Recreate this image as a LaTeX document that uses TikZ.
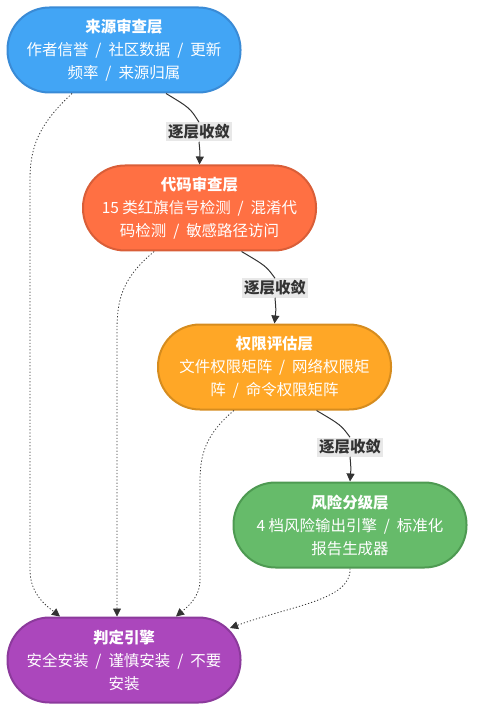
\documentclass[tikz,border=0pt]{standalone}
\usepackage{fontspec}
\setmainfont{Noto Sans CJK SC}
\usetikzlibrary{arrows.meta}

\definecolor{srcfill}{HTML}{42A5F5}
\definecolor{srcline}{HTML}{3A8BD6}
\definecolor{codefill}{HTML}{FF7043}
\definecolor{codeline}{HTML}{D95E38}
\definecolor{permfill}{HTML}{FFA726}
\definecolor{permline}{HTML}{D68C1E}
\definecolor{riskfill}{HTML}{66BB6A}
\definecolor{riskline}{HTML}{4E9A52}
\definecolor{judgefill}{HTML}{AB47BC}
\definecolor{judgeline}{HTML}{8C3A9C}
\definecolor{edgegray}{HTML}{333333}
\definecolor{lblgray}{HTML}{E8E8E8}

\newcommand{\slsep}{\hspace{0.45em}/\hspace{0.45em}}

\tikzset{
  layer/.style={draw, line width=1.5pt, rounded corners=31.5pt,
    minimum width=174.75pt, minimum height=63.75pt, inner sep=0pt,
    align=center, text=white, font=\fontsize{11.6}{17.25}\selectfont},
  conv/.style={draw=edgegray, line width=0.75pt},
  back/.style={draw=edgegray, line width=0.6pt, dash pattern=on 0.9pt off 1.5pt},
  tip/.style={-{Triangle[length=6pt,width=6pt]}},
  lbl/.style={fill=lblgray, text=edgegray, inner sep=1.5pt,
    font=\bfseries\fontsize{11.6}{14}\selectfont}
}

\begin{document}
\begin{tikzpicture}[x=0.75pt, y=-0.75pt]
    \useasboundingbox (0,0) rectangle (483,723);

    % the five layers
    \node[layer, fill=srcfill, draw=srcline] (src) at (124,50)
      {\textbf{来源审查层}\\作者信誉\slsep 社区数据\slsep 更新\\频率\slsep 来源归属};
    \node[layer, fill=codefill, draw=codeline] (code) at (199.5,208)
      {\textbf{代码审查层}\\15 类红旗信号检测\slsep 混淆代\\码检测\slsep 敏感路径访问};
    \node[layer, fill=permfill, draw=permline] (perm) at (274.5,367)
      {\textbf{权限评估层}\\文件权限矩阵\slsep 网络权限矩\\阵\slsep 命令权限矩阵};
    \node[layer, fill=riskfill, draw=riskline] (risk) at (350,525)
      {\textbf{风险分级层}\\4 档风险输出引擎\slsep 标准化\\报告生成器};
    \node[layer, fill=judgefill, draw=judgeline] (judge) at (124,660)
      {\textbf{判定引擎}\\安全安装\slsep 谨慎安装\slsep 不要\\安装};

    % labels on the converging edges
    \node[lbl] (cv1) at (199,132) {逐层收敛};
    \node[lbl] (cv2) at (275,288) {逐层收敛};
    \node[lbl] (cv3) at (350,447) {逐层收敛};

    \draw[conv] ([xshift=31.5pt]src.south) .. controls (190,108) .. (cv1.north);
    \draw[conv, tip] (cv1.south) .. controls (200,152) .. (code.north);
    \draw[conv] ([xshift=31.5pt]code.south) .. controls (266,266) .. (cv2.north);
    \draw[conv, tip] (cv2.south) .. controls (276,310) .. (perm.north);
    \draw[conv] ([xshift=31.5pt]perm.south) .. controls (341,425) .. (cv3.north);
    \draw[conv, tip] (cv3.south) .. controls (351,468) .. (risk.north);

    % every layer also reports to the judge
    \draw[back, tip] ([xshift=-39pt]src.south) .. controls (38,125) and (30,148) .. (30,180)
      -- (30,570) .. controls (30,595) and (48,607) .. ([xshift=-48pt]judge.north);
    \draw[back, tip] ([xshift=-34pt]code.south) .. controls (122,278) and (117,300) .. (117,330)
      -- ([xshift=-5.25pt]judge.north);
    \draw[back, tip] ([xshift=-30.5pt]perm.south) .. controls (205,435) and (200,455) .. (200,482)
      -- (200,580) .. controls (200,598) and (186,608) .. ([xshift=39pt]judge.north);
    \draw[back, tip] (risk.south) .. controls (352,600) and (290,606)
      .. ([xshift=79.5pt, yshift=24pt]judge.center);

  \end{tikzpicture}
\end{document}
